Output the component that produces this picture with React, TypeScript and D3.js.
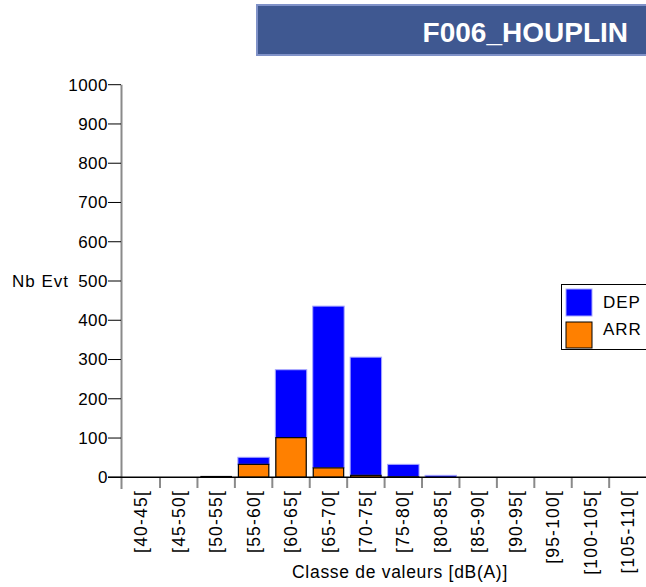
import React from "react";
import * as d3 from "d3";

const categories = ["[40-45[", "[45-50[", "[50-55[", "[55-60[", "[60-65[", "[65-70[", "[70-75[", "[75-80[", "[80-85[", "[85-90[", "[90-95[", "[95-100[", "[100-105[", "[105-110["];
const arrValues = [0, 0, 2, 33, 101, 24, 5, 1, 0, 0, 0, 0, 0, 0];
const depValues = [0, 0, 0, 18, 173, 412, 301, 32, 5, 0, 0, 0, 0, 0];
const yTicks = [0, 100, 200, 300, 400, 500, 600, 700, 800, 900, 1000];
const title = "F006_HOUPLIN";
const seriesNames = ["DEP", "ARR"];

const W = 646, H = 587;
const FONT = "'Liberation Sans', Arial, sans-serif";

export default function App() {
  const x0 = 122.6, x1 = 646.6;
  const x = d3.scaleBand<string>().domain(categories).range([x0, x1]);
  const step = x.step();
  const y = d3.scaleLinear().domain([0, 1000]).range([477.3, 84.7]);
  const bw = step - 6;

  return (
    <svg width={W} height={H} style={{ position: "absolute", left: 0, top: 0, background: "#fff" }} fontFamily={FONT}>
      {/* title */}
      <rect x={257} y={5} width={400} height={50} fill="#3F5891" stroke="#8092C8" strokeWidth={2} />
      <text x={628} y={42} textAnchor="end" fill="#fff" fontSize={28} fontWeight="bold">{title}</text>

      {/* y axis */}
      <line x1={121.5} x2={121.5} y1={y(1000)} y2={489} stroke="#8a8a8a" strokeWidth={2} />
      {yTicks.map((t) => (
        <g key={t}>
          <line x1={108} x2={121} y1={y(t)} y2={y(t)} stroke="#000" strokeWidth={1} />
          <text x={108} y={y(t)} dy="0.35em" textAnchor="end" fontSize={17} letterSpacing={0.5} fill="#000">{t}</text>
        </g>
      ))}
      <text x={12} y={y(500)} dy="0.35em" fontSize={17} letterSpacing={1} fill="#000">Nb Evt</text>

      {/* category ticks */}
      {categories.map((c, i) => {
        const bx = (x(c) as number) + step;
        return i < categories.length - 1 ? (
          <line key={c} x1={bx} x2={bx} y1={477} y2={488} stroke="#8a8a8a" strokeWidth={2} />
        ) : null;
      })}

      {/* bars */}
      {categories.map((c, i) => {
        const cx = (x(c) as number) + 3;
        const a = arrValues[i];
        const d = depValues[i];
        return (
          <g key={c}>
            {d > 0 && (
              <rect x={cx} y={y(a + d)} width={bw} height={y(a) - y(a + d)} fill="#0000FF" stroke="#A8A8FF" strokeWidth={1} />
            )}
            {a > 0 && (
              <rect x={cx + 0.5} y={y(a)} width={bw - 1} height={y(0) - y(a)} fill="#FF8000" stroke="#000" strokeWidth={1.2} />
            )}
          </g>
        );
      })}

      {/* x axis line */}
      <line x1={108} x2={646} y1={477.3} y2={477.3} stroke="#000" strokeWidth={1.5} />

      {/* x labels */}
      {categories.map((c) => {
        const cx = (x(c) as number) + step / 2;
        return (
          <text key={c} transform={`translate(${cx},${490}) rotate(-90)`} textAnchor="end" dy="0.35em" fontSize={17.5} letterSpacing={1.2} fill="#000">{c}</text>
        );
      })}
      <text x={400} y={578} textAnchor="middle" fontSize={17.5} letterSpacing={0.7} fill="#000">Classe de valeurs [dB(A)]</text>

      {/* legend */}
      <rect x={561.5} y={284.5} width={100} height={65} fill="#fff" stroke="#000" strokeWidth={1} />
      <rect x={566} y={289} width={26} height={27} fill="#0000FF" stroke="#A8A8FF" />
      <rect x={566} y={322} width={26} height={26} fill="#FF8000" stroke="#000" />
      <text x={603} y={308} fontSize={17} letterSpacing={1} fill="#000">{seriesNames[0]}</text>
      <text x={603} y={335} fontSize={17} letterSpacing={1} fill="#000">{seriesNames[1]}</text>
    </svg>
  );
}
